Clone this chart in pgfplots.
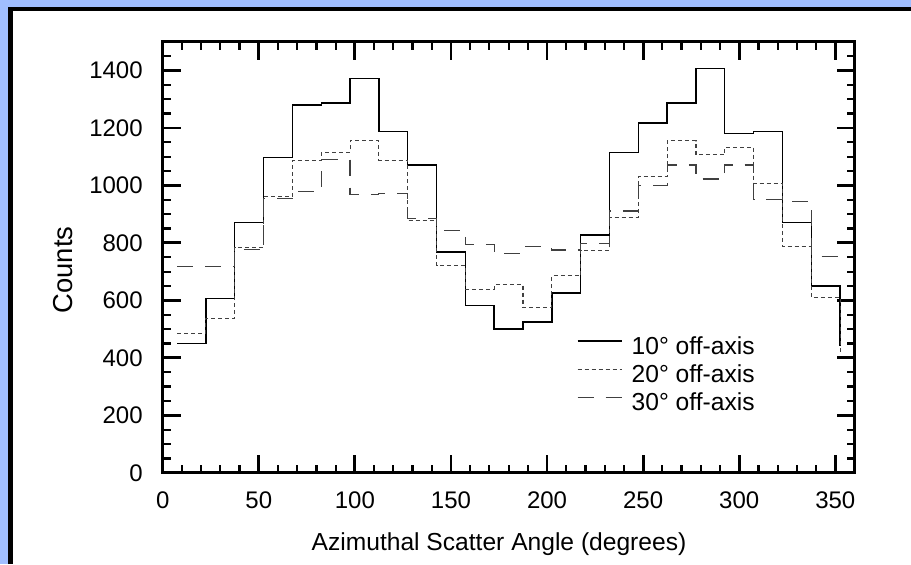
\documentclass[border=0pt]{standalone}
\usepackage{fontspec}
\setmainfont{Liberation Sans}
\usepackage{pgfplots}
\pgfplotsset{compat=1.18}
\definecolor{bgblue}{RGB}{160,190,255}
\begin{document}
\begin{tikzpicture}[x=1pt,y=1pt]
% panel and frame
\fill[bgblue] (0,0) rectangle (455.5,282);
\fill[white] (5.25,0) rectangle (455.5,277.5);
\draw[line width=2pt] (4,277.5) -- (455.5,277.5);
\draw[line width=2.5pt] (5.25,0) -- (5.25,278.5);
\begin{axis}[
    at={(81.35pt,45.6pt)}, anchor=south west,
    scale only axis,
    width=345.9pt, height=215.55pt,
    xmin=0, xmax=360, ymin=0, ymax=1500,
    xtick={0,50,...,350},
    ytick={0,200,...,1400},
    minor xtick={0,10,...,350},
    minor ytick={0,50,...,1450},
    tick align=inside,
    major tick length=9pt,
    minor tick length=4pt,
    major tick style={line width=1.4pt, black},
    minor tick style={line width=1.1pt, black},
    axis line style={line width=1.5pt},
    /pgf/number format/assume math mode=true,
    /pgf/number format/1000 sep={},
    tick label style={font=\fontsize{12}{14}\selectfont},
    yticklabel style={inner sep=0pt, xshift=-9.8pt},
    xticklabel style={inner sep=0pt, yshift=-9.4pt},
    legend cell align=left,
    legend image code/.code={\draw[#1] (0pt,3.6pt) -- (22pt,3.6pt);},
    legend style={at={(0.598,0.322)}, anchor=north west, draw=none, fill=none,
        inner sep=0pt, row sep=0pt, column sep=3.5pt,
        font=\fontsize{12.3}{14}\selectfont,
        nodes={inner sep=1.25pt, text height=9pt, text depth=2.5pt}},
]
% 10 deg off-axis
\addplot[const plot, black, line width=0.7pt] coordinates {
    (7.5,450) (22.5,607) (37.5,870) (52.5,1097) (67.5,1280) (82.5,1287)
    (97.5,1371) (112.5,1187) (127.5,1071) (142.5,768) (157.5,583) (172.5,500)
    (187.5,525) (202.5,626) (217.5,828) (232.5,1115) (247.5,1217) (262.5,1287)
    (277.5,1406) (292.5,1181) (307.5,1187) (322.5,870) (337.5,650) (352.5,440)
};
\addlegendentry{10° off-axis}
% 20 deg off-axis
\addplot[const plot, black!75, line width=0.55pt, dash pattern=on 2pt off 1.5pt] coordinates {
    (7.5,485) (22.5,536) (37.5,785) (52.5,962) (67.5,1088) (82.5,1115)
    (97.5,1156) (112.5,1088) (127.5,879) (142.5,720) (157.5,638) (172.5,654)
    (187.5,576) (202.5,686) (217.5,775) (232.5,888) (247.5,1031) (262.5,1155)
    (277.5,1106) (292.5,1133) (307.5,1006) (322.5,787) (337.5,610) (352.5,411)
};
\addlegendentry{20° off-axis}
% 30 deg off-axis
\addplot[const plot, black!75, line width=0.6pt, dash pattern=on 8pt off 6pt] coordinates {
    (7.5,718) (22.5,718) (37.5,778) (52.5,954) (67.5,979) (82.5,1090)
    (97.5,967) (112.5,973) (127.5,886) (142.5,844) (157.5,795) (172.5,762)
    (187.5,787) (202.5,775) (217.5,798) (232.5,911) (247.5,999) (262.5,1071)
    (277.5,1022) (292.5,1071) (307.5,952) (322.5,944) (337.5,754) (352.5,772)
};
\addlegendentry{30° off-axis}
\end{axis}
\node[rotate=90, font=\fontsize{13.7}{16}\selectfont] at (31.65,147) {Counts};
\node[anchor=base, font=\fontsize{12.3}{14}\selectfont] at (249.5,6.85) {Azimuthal Scatter Angle (degrees)};
\pgfresetboundingbox
\path[use as bounding box] (0,0) rectangle (455.5,282);
\end{tikzpicture}
\end{document}
